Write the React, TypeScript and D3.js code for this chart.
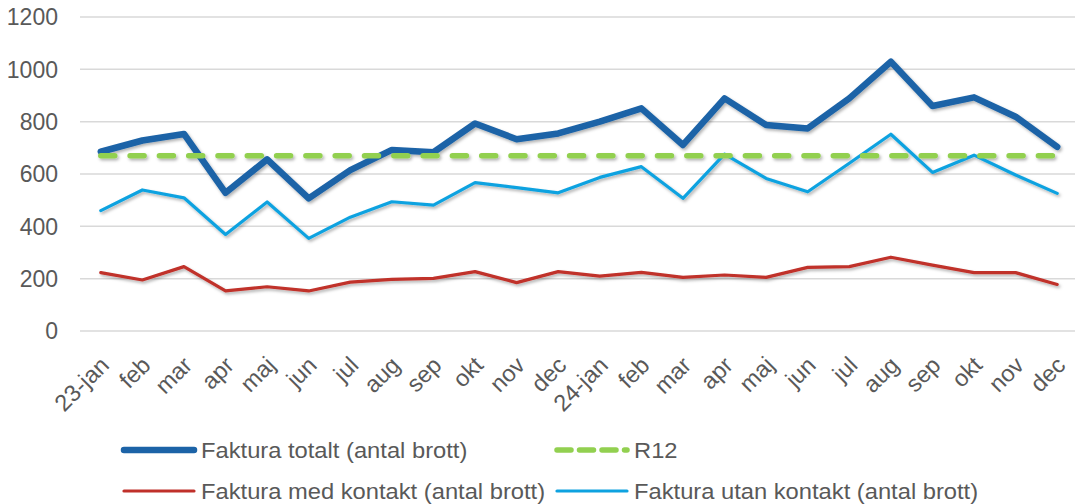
import React, { useEffect, useRef } from "react";
import * as d3 from "d3";

const categories = ["23-jan","feb","mar","apr","maj","jun","jul","aug","sep","okt","nov","dec","24-jan","feb","mar","apr","maj","jun","jul","aug","sep","okt","nov","dec"];
const totalt = [685,728,753,528,656,507,615,692,683,793,733,755,800,851,711,889,787,774,889,1029,860,893,819,704];
const r12 = [670,670,670,670,670,670,670,670,670,670,670,670,670,670,670,670,670,670,670,670,670,670,670,670];
const medKontakt = [223,195,246,153,169,153,187,197,201,227,185,227,210,224,205,214,205,243,246,282,252,223,223,178];
const utanKontakt = [460,539,509,369,493,354,435,494,481,567,548,528,587,628,507,676,583,532,641,752,606,672,596,526];
const yTicks = [0,200,400,600,800,1000,1200];

const W = 1075, H = 504;
const FONT = "'Liberation Sans', Arial, sans-serif";

export default function App() {
  const ref = useRef<SVGSVGElement>(null);
  useEffect(() => {
    document.body.style.margin = "0";
    const svg = d3.select(ref.current);
    svg.selectAll("*").remove();
    const left = 80, right = 1078, top = 17, bottom = 331;
    const x = d3.scaleBand<number>().domain(d3.range(categories.length)).range([left, right]);
    const cx = (i: number) => (x(i) as number) + x.bandwidth() / 2;
    const y = d3.scaleLinear().domain([0, 1200]).range([bottom, top]);

    const defs = svg.append("defs");
    const f = defs.append("filter").attr("id", "sh").attr("x", "-5%").attr("y", "-20%").attr("width", "110%").attr("height", "140%");
    f.append("feDropShadow").attr("dx", 1.5).attr("dy", 2).attr("stdDeviation", 1.5).attr("flood-color", "#000").attr("flood-opacity", 0.3);

    // grid
    svg.append("g").selectAll("line").data(yTicks).join("line")
      .attr("x1", left).attr("x2", W).attr("y1", d => y(d)).attr("y2", d => y(d))
      .attr("stroke", "#d9d9d9").attr("stroke-width", 1.5);
    // y labels
    svg.append("g").selectAll("text").data(yTicks).join("text")
      .attr("x", 58).attr("y", d => y(d)).attr("dy", "0.36em").attr("text-anchor", "end")
      .attr("font-family", FONT).attr("font-size", 23).attr("fill", "#595959").text(d => d);
    // x labels
    svg.append("g").selectAll("text").data(categories).join("text")
      .attr("transform", (d, i) => `translate(${cx(i) - 2},${355}) rotate(-45)`)
      .attr("text-anchor", "end").attr("dy", "0.7em")
      .attr("font-family", FONT).attr("font-size", 23.5).attr("fill", "#595959").text(d => d);

    const line = d3.line<number>().x((d, i) => cx(i)).y(d => y(d));
    const series = [
      { data: medKontakt, color: "#c0302a", w: 3.2, dash: null },
      { data: utanKontakt, color: "#0ea2e0", w: 3.2, dash: null },
      { data: totalt, color: "#1c63a7", w: 6.5, dash: null },
      { data: r12, color: "#92d050", w: 5.5, dash: "14 15.3" },
    ];
    const g = svg.append("g").attr("filter", "url(#sh)");
    series.forEach(s => {
      g.append("path").attr("d", line(s.data) as string).attr("fill", "none")
        .attr("stroke", s.color).attr("stroke-width", s.w)
        .attr("stroke-linejoin", "round").attr("stroke-linecap", "round")
        .attr("stroke-dasharray", s.dash);
    });

    // legend
    const legend = [
      { label: "Faktura totalt (antal brott)", color: "#1c63a7", w: 6.5, dash: null, x: 124, y: 450 },
      { label: "R12", color: "#92d050", w: 5.5, dash: "14 8.5", x: 557, y: 450 },
      { label: "Faktura med kontakt (antal brott)", color: "#c0302a", w: 3.2, dash: null, x: 124, y: 491 },
      { label: "Faktura utan kontakt (antal brott)", color: "#0ea2e0", w: 3.2, dash: null, x: 557, y: 491 },
    ];
    const lg = svg.append("g");
    legend.forEach(l => {
      lg.append("line").attr("x1", l.x).attr("x2", l.x + 70).attr("y1", l.y).attr("y2", l.y)
        .attr("stroke", l.color).attr("stroke-width", l.w).attr("stroke-linecap", "round")
        .attr("stroke-dasharray", l.dash);
      lg.append("text").attr("transform", `translate(${l.x + 77},${l.y}) scale(1.055,1)`)
        .attr("dy", "0.36em")
        .attr("font-family", FONT).attr("font-size", 22.5).attr("fill", "#595959").text(l.label);
    });
  }, []);
  return <svg ref={ref} width={W} height={H} style={{ display: "block" }} />;
}
